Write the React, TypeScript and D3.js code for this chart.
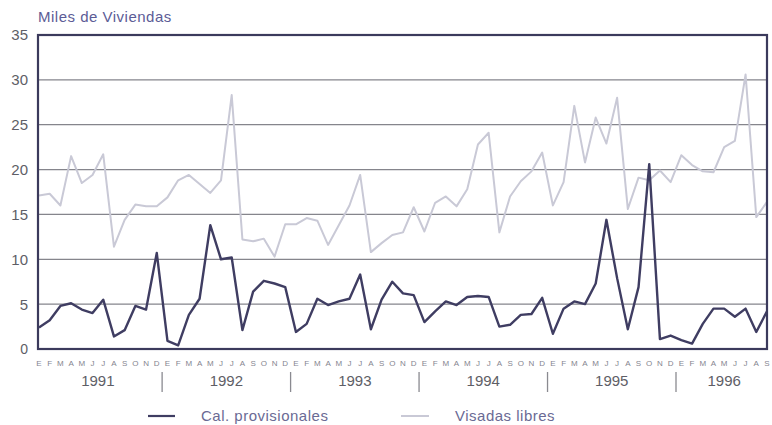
import React from "react";
import * as d3 from "d3";

const monthLetters = ["E", "F", "M", "A", "M", "J", "J", "A", "S", "O", "N", "D"];
const years = ["1991", "1992", "1993", "1994", "1995", "1996"];
const monthsIn1996 = 9;
const yTicks = [0, 5, 10, 15, 20, 25, 30, 35];
const seriesNames = ["Cal. provisionales", "Visadas libres"];

// Cal. provisionales (miles de viviendas), Jan 1991 - Sep 1996
const calProvisionales = [
  2.4, 3.2, 4.8, 5.1, 4.4, 4.0, 5.5, 1.4, 2.1, 4.8, 4.4, 10.7,
  0.9, 0.4, 3.8, 5.6, 13.8, 10.0, 10.2, 2.1, 6.4, 7.6, 7.3, 6.9,
  1.9, 2.8, 5.6, 4.9, 5.3, 5.6, 8.3, 2.2, 5.5, 7.5, 6.2, 6.0,
  3.0, 4.2, 5.3, 4.9, 5.8, 5.9, 5.8, 2.5, 2.7, 3.8, 3.9, 5.7,
  1.7, 4.5, 5.3, 5.0, 7.3, 14.4, 7.9, 2.2, 6.9, 20.6,
  1.1, 1.5, 1.0, 0.6, 2.8, 4.5, 4.5, 3.6, 4.5, 1.9, 4.2,
];

// Visadas libres (miles de viviendas), Jan 1991 - Sep 1996
const visadasLibres = [
  17.1, 17.3, 16.0, 21.5, 18.5, 19.4, 21.7, 11.4, 14.4, 16.1, 15.9, 15.9,
  16.9, 18.8, 19.4, 18.4, 17.4, 18.8, 28.3, 12.2, 12.0, 12.3, 10.3, 13.9,
  13.9, 14.6, 14.3, 11.6, 13.8, 16.0, 19.4, 10.8, 11.8, 12.7, 13.0, 15.8,
  13.1, 16.3, 17.0, 15.9, 17.8, 22.8, 24.1, 13.0, 17.0, 18.7, 19.8, 21.9,
  16.0, 18.6, 27.1, 20.8, 25.8, 22.9, 28.0, 15.6, 19.1, 18.8,
  19.9, 18.6, 21.6, 20.5, 19.8, 19.7, 22.5, 23.2, 30.6, 14.7, 16.4,
];

const W = 772;
const H = 425;
const left = 38;
const right = 767;
const top = 35;
const bottom = 349;

export default function App() {
  const n = calProvisionales.length;
  const x = d3.scaleLinear().domain([0, n - 1]).range([left + 1, right]);
  const y = d3.scaleLinear().domain([0, 35]).range([bottom, top]);
  const line = d3
    .line<number>()
    .x((_, i) => x(i))
    .y((d) => y(d));

  const monthLabels: { i: number; t: string }[] = [];
  years.forEach((_, yi) => {
    const count = yi === years.length - 1 ? monthsIn1996 : 12;
    for (let m = 0; m < count; m++) monthLabels.push({ i: yi * 12 + m, t: monthLetters[m] });
  });

  const font = "'Liberation Sans', Arial, Helvetica, sans-serif";
  const dark = "#3f3d62";
  const light = "#c9c9d6";

  return (
    <svg
      width={W}
      height={H}
      style={{ position: "absolute", left: 0, top: 0, background: "#fff" }}
      fontFamily={font}
    >
      <text x={38} y={22} fontSize={15} letterSpacing={0.5} fill="#5c5c96">
        Miles de Viviendas
      </text>

      {yTicks.map((t) => (
        <g key={t}>
          {t > 0 && t < 35 && (
            <line x1={left} x2={right} y1={y(t)} y2={y(t)} stroke="#85858c" strokeWidth={1.2} />
          )}
          <text
            x={28}
            y={y(t)}
            dy="0.36em"
            textAnchor="end"
            fontSize={t === 0 ? 14 : 15}
            fill="#5e5e66"
          >
            {t}
          </text>
        </g>
      ))}

      <path d={line(visadasLibres) || ""} fill="none" stroke={light} strokeWidth={2} strokeLinejoin="round" />
      <path d={line(calProvisionales) || ""} fill="none" stroke={dark} strokeWidth={2.4} strokeLinejoin="round" />

      <rect
        x={left}
        y={top}
        width={right - left}
        height={bottom - top}
        fill="none"
        stroke="#3b3a5c"
        strokeWidth={2.2}
      />

      {monthLabels.map((m) => (
        <text key={m.i} x={x(m.i)} y={366} textAnchor="middle" fontSize={8} fill="#85858f">
          {m.t}
        </text>
      ))}

      {years.map((yr, yi) => {
        const count = yi === years.length - 1 ? monthsIn1996 : 12;
        const cx = x(yi * 12 + (count - 1) / 2);
        return (
          <g key={yr}>
            <text x={cx} y={386} textAnchor="middle" fontSize={15} fill="#5e5e66">
              {yr}
            </text>
            {yi < years.length - 1 && (
              <line
                x1={x(yi * 12 + 11.5)}
                x2={x(yi * 12 + 11.5)}
                y1={372}
                y2={392}
                stroke="#8a8a90"
                strokeWidth={1.3}
              />
            )}
          </g>
        );
      })}

      <line x1={148} x2={175} y1={416} y2={416} stroke={dark} strokeWidth={2.2} />
      <text x={201} y={421} fontSize={15} letterSpacing={0.5} fill="#6a6a94">
        {seriesNames[0]}
      </text>
      <line x1={401} x2={429} y1={416} y2={416} stroke={light} strokeWidth={2} />
      <text x={455} y={421} fontSize={15} letterSpacing={0.5} fill="#6a6a94">
        {seriesNames[1]}
      </text>
    </svg>
  );
}
